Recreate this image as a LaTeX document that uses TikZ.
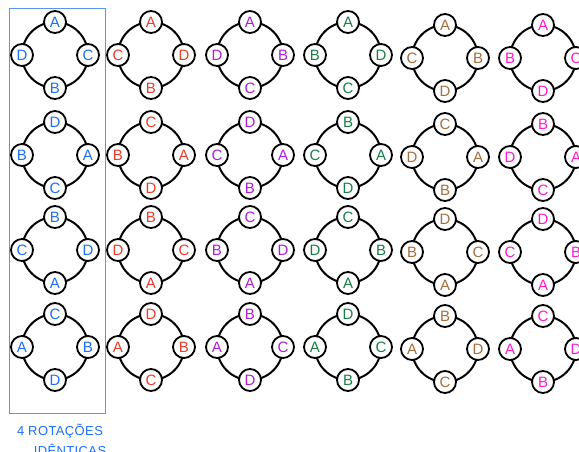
\documentclass[tikz,border=0pt]{standalone}
\usepackage{fontspec}
\setmainfont{Liberation Sans}

\definecolor{azul}{RGB}{30,110,250}
\definecolor{vermelho}{RGB}{235,60,40}
\definecolor{roxo}{RGB}{175,30,215}
\definecolor{verde}{RGB}{25,125,70}
\definecolor{marrom}{RGB}{165,110,60}
\definecolor{rosa}{RGB}{255,25,210}
\definecolor{moldura}{RGB}{90,150,240}

\tikzset{
  aro/.style={line width=2pt, draw=black},
  lugar/.style={circle, draw=black, line width=1.8pt, fill=white,
                minimum size=22pt, inner sep=0pt, font=\fontsize{15}{15}\selectfont},
  nota/.style={text=azul, font=\fontsize{13}{14}\selectfont\addfontfeatures{LetterSpace=3}}
}

% #1 nome, #2 x, #3 y, #4 cor, #5 cima, #6 direita, #7 baixo, #8 esquerda
\newcommand{\roda}[8]{
  \begin{scope}[shift={(#2,#3)}]
    \coordinate (#1) at (0,0);
    \draw[aro] (#1) circle[radius=33pt];
    \node[lugar, text=#4] (#1-c) at (0,-33) {#5};
    \node[lugar, text=#4] (#1-d) at (33,0) {#6};
    \node[lugar, text=#4] (#1-b) at (0,33) {#7};
    \node[lugar, text=#4] (#1-e) at (-33,0) {#8};
  \end{scope}
}

\begin{document}
\begin{tikzpicture}[x=1pt, y=-1pt]
  \useasboundingbox (0,0) rectangle (579,452);

  % Coluna 1: as 4 rotações
  \roda{a1}{55}{55}{azul}{A}{C}{B}{D}
  \roda{a2}{55}{155}{azul}{D}{A}{C}{B}
  \roda{a3}{55}{250}{azul}{B}{D}{A}{C}
  \roda{a4}{55}{347}{azul}{C}{B}{D}{A}

  % Coluna 2
  \roda{b1}{151}{55}{vermelho}{A}{D}{B}{C}
  \roda{b2}{151}{155}{vermelho}{C}{A}{D}{B}
  \roda{b3}{151}{250}{vermelho}{B}{C}{A}{D}
  \roda{b4}{151}{347}{vermelho}{D}{B}{C}{A}

  % Coluna 3
  \roda{c1}{250}{55}{roxo}{A}{B}{C}{D}
  \roda{c2}{250}{155}{roxo}{D}{A}{B}{C}
  \roda{c3}{250}{250}{roxo}{C}{D}{A}{B}
  \roda{c4}{250}{347}{roxo}{B}{C}{D}{A}

  % Coluna 4
  \roda{d1}{348}{55}{verde}{A}{D}{C}{B}
  \roda{d2}{348}{155}{verde}{B}{A}{D}{C}
  \roda{d3}{348}{250}{verde}{C}{B}{A}{D}
  \roda{d4}{348}{347}{verde}{D}{C}{B}{A}

  % Coluna 5
  \roda{e1}{445}{58}{marrom}{A}{B}{D}{C}
  \roda{e2}{445}{157}{marrom}{C}{A}{B}{D}
  \roda{e3}{445}{252}{marrom}{D}{C}{A}{B}
  \roda{e4}{445}{349}{marrom}{B}{D}{C}{A}

  % Coluna 6
  \roda{f1}{543}{58}{rosa}{A}{C}{D}{B}
  \roda{f2}{543}{157}{rosa}{B}{A}{C}{D}
  \roda{f3}{543}{252}{rosa}{D}{B}{A}{C}
  \roda{f4}{543}{349}{rosa}{C}{D}{B}{A}

  % Moldura e legenda
  \draw[moldura, line width=0.9pt] (9.5,8.5) rectangle (105,413);
  \node[nota] (nota1) at (60,431) {4 ROTAÇÕES};
  \node[nota] (nota2) at (70,450) {IDÊNTICAS};
\end{tikzpicture}
\end{document}
